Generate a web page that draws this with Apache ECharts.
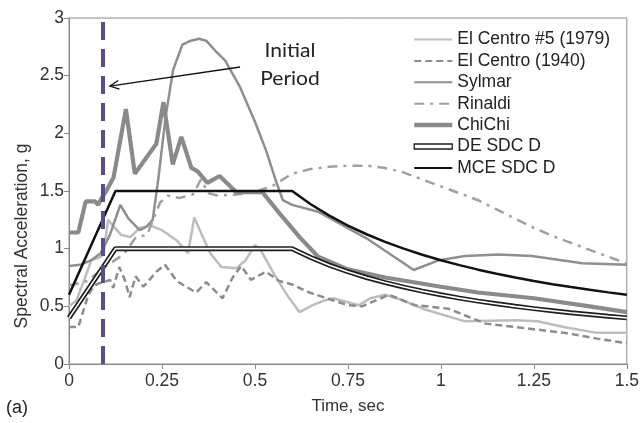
<!DOCTYPE html>
<html><head><meta charset="utf-8">
<script src="https://cdn.jsdelivr.net/npm/echarts@6/dist/echarts.min.js"></script>
<style>html,body{margin:0;padding:0;background:#fff}#c{width:642px;height:423px}</style>
</head><body><div id="c"></div>
<script>
// ---- data (time in sec, spectral acceleration in g) ----
const seriesNames = ['El Centro #5 (1979)', 'El Centro (1940)', 'Sylmar', 'Rinaldi', 'ChiChi', 'DE SDC D', 'MCE SDC D'];
const xTickLabels = [0, 0.25, 0.5, 0.75, 1, 1.25, 1.5];
const yTickLabels = [0, 0.5, 1, 1.5, 2, 2.5, 3];
const initialPeriod = 0.093;

const elCentro5 = [[0,0.5],[0.02,0.55],[0.04,0.72],[0.06,0.9],[0.08,0.92],[0.093,0.95],[0.105,1.25],[0.14,1.12],[0.165,1.1],[0.19,1.18],[0.22,1.2],[0.25,1.16],[0.29,1.07],[0.32,0.96],[0.337,1.27],[0.36,1.1],[0.38,0.96],[0.41,0.84],[0.45,0.83],[0.475,0.9],[0.5,1.03],[0.515,0.99],[0.555,0.76],[0.59,0.58],[0.62,0.45],[0.655,0.51],[0.69,0.555],[0.71,0.57],[0.78,0.51],[0.81,0.57],[0.85,0.6],[0.895,0.555],[0.96,0.47],[1.065,0.37],[1.2,0.38],[1.26,0.37],[1.33,0.32],[1.42,0.27],[1.5,0.27]];
const elCentro1940 = [[0,0.32],[0.025,0.32],[0.052,0.6],[0.065,0.67],[0.08,0.7],[0.095,0.71],[0.11,0.73],[0.119,0.66],[0.135,0.84],[0.15,0.73],[0.163,0.58],[0.179,0.76],[0.2,0.67],[0.235,0.8],[0.258,0.86],[0.29,0.72],[0.315,0.67],[0.342,0.62],[0.369,0.71],[0.413,0.57],[0.44,0.75],[0.463,0.85],[0.489,0.73],[0.53,0.8],[0.565,0.72],[0.6,0.69],[0.646,0.62],[0.708,0.555],[0.75,0.51],[0.788,0.5],[0.86,0.6],[0.93,0.51],[1.02,0.48],[1.12,0.35],[1.2,0.32],[1.333,0.27],[1.42,0.22],[1.5,0.18]];
const sylmar = [[0,0.85],[0.03,0.86],[0.06,0.9],[0.085,0.96],[0.11,1.12],[0.138,1.38],[0.16,1.26],[0.19,1.16],[0.208,1.19],[0.225,1.25],[0.24,1.6],[0.26,2.15],[0.28,2.55],[0.305,2.77],[0.325,2.8],[0.35,2.82],[0.37,2.8],[0.395,2.71],[0.42,2.63],[0.46,2.4],[0.5,2.1],[0.53,1.85],[0.555,1.6],[0.575,1.42],[0.6,1.38],[0.67,1.32],[0.8,1.09],[0.927,0.815],[0.995,0.9],[1.065,0.937],[1.155,0.95],[1.245,0.937],[1.38,0.873],[1.5,0.86]];
const rinaldi = [[0,0.68],[0.05,0.72],[0.1,0.85],[0.147,0.95],[0.18,1.1],[0.21,1.12],[0.245,1.4],[0.265,1.46],[0.297,1.44],[0.333,1.47],[0.355,1.6],[0.375,1.48],[0.4,1.46],[0.45,1.47],[0.5,1.49],[0.55,1.55],[0.6,1.65],[0.65,1.69],[0.7,1.71],[0.75,1.72],[0.8,1.72],[0.85,1.7],[0.9,1.66],[0.95,1.6],[1.0,1.54],[1.05,1.48],[1.1,1.42],[1.15,1.34],[1.2,1.26],[1.25,1.18],[1.3,1.11],[1.35,1.05],[1.4,0.99],[1.45,0.93],[1.5,0.87]];
const chiChi = [[0,1.14],[0.025,1.14],[0.045,1.41],[0.07,1.41],[0.078,1.38],[0.088,1.44],[0.1,1.5],[0.12,1.62],[0.153,2.21],[0.177,1.65],[0.217,1.83],[0.235,1.91],[0.254,2.27],[0.279,1.73],[0.302,1.97],[0.329,1.7],[0.346,1.67],[0.372,1.57],[0.405,1.63],[0.45,1.49],[0.52,1.49],[0.565,1.31],[0.62,1.1],[0.67,0.93],[0.75,0.82],[0.85,0.75],[1.0,0.67],[1.1,0.62],[1.25,0.57],[1.4,0.5],[1.5,0.45]];
const deSdcD = [[0,0.4],[0.125,1.0],[0.6,1.0],[0.65,0.923],[0.7,0.857],[0.75,0.8],[0.8,0.75],[0.85,0.706],[0.9,0.667],[0.95,0.632],[1.0,0.6],[1.05,0.571],[1.1,0.545],[1.15,0.522],[1.2,0.5],[1.25,0.48],[1.3,0.462],[1.35,0.444],[1.4,0.429],[1.45,0.414],[1.5,0.4]];
const mceSdcD = [[0,0.6],[0.125,1.5],[0.6,1.5],[0.65,1.385],[0.7,1.286],[0.75,1.2],[0.8,1.125],[0.85,1.059],[0.9,1.0],[0.95,0.947],[1.0,0.9],[1.05,0.857],[1.1,0.818],[1.15,0.783],[1.2,0.75],[1.25,0.72],[1.3,0.692],[1.35,0.667],[1.4,0.643],[1.45,0.621],[1.5,0.6]];
// annotation arrow (data coords): start near text, tip at the dashed line
const arrowStart = [0.46, 2.575];
const arrowTip = [0.11, 2.41];

const FONT = 'Liberation Sans, Arial, sans-serif';
const chart = echarts.init(document.getElementById('c'), null, {renderer: 'canvas'});

function line(name, data, color, width, type, z) {
  return {name, type: 'line', data, showSymbol: false, symbol: 'none', z: z || 2,
    lineStyle: {color, width, type: type || 'solid'}, itemStyle: {color}, animation: false, silent: true};
}

const axisCommon = {
  axisLine: {show: true, lineStyle: {color: '#8a8a8a', width: 1}},
  axisTick: {show: true, length: 5, lineStyle: {color: '#8a8a8a'}},
  splitLine: {show: false},
  nameTextStyle: {fontSize: 17, color: '#333', fontFamily: FONT}
};

const series = [
  line(seriesNames[0], elCentro5, '#bdbdbd', 2.5),
  line(seriesNames[1], elCentro1940, '#8c8c8c', 2.5, [7, 4]),
  line(seriesNames[2], sylmar, '#8f8f8f', 2.5),
  line(seriesNames[3], rinaldi, '#a0a0a0', 2.5, [10, 6, 3, 6]),
  line(seriesNames[4], chiChi, '#8a8a8a', 4.2),
  line(seriesNames[5], deSdcD, '#1e1e1e', 5),
  line('DE inner', deSdcD, '#ffffff', 1.6),
  line(seriesNames[6], mceSdcD, '#111111', 2.5)
];
series[0].markLine = {
  silent: true, symbol: 'none', animation: false,
  label: {show: false},
  lineStyle: {color: '#594d87', width: 4, type: [18, 9]},
  data: [{xAxis: initialPeriod}]
};

const legendWidths = {'ChiChi': 4.5};

chart.setOption({
  animation: false,
  grid: {left: 69, right: 13, top: 18, bottom: 59, show: true, borderColor: '#8a8a8a', borderWidth: 1, containLabel: false},
  xAxis: Object.assign({}, axisCommon, {
    type: 'value', min: 0, max: 1.5, interval: 0.25,
    name: 'Time, sec', nameLocation: 'middle', nameGap: 34,
    axisLabel: {fontSize: 17.5, color: '#333', margin: 8, fontFamily: FONT,
      formatter: v => { const i = xTickLabels.findIndex(t => Math.abs(t - v) < 1e-6); return i >= 0 ? String(xTickLabels[i]) : ''; }}
  }),
  yAxis: Object.assign({}, axisCommon, {
    type: 'value', min: 0, max: 3, interval: 0.5,
    axisLabel: {fontSize: 17.5, color: '#333', margin: 5, fontFamily: FONT,
      formatter: v => { const i = yTickLabels.findIndex(t => Math.abs(t - v) < 1e-6); return i >= 0 ? String(yTickLabels[i]) : ''; }}
  }),
  legend: {
    show: true, orient: 'vertical', left: 412, top: 29, padding: 0,
    itemWidth: 38, itemHeight: 5, itemGap: 0.4,
    selectedMode: false,
    itemStyle: {opacity: 0, borderWidth: 0},
    textStyle: {fontSize: 17.5, color: '#222', lineHeight: 21, fontFamily: FONT},
    data: seriesNames.map(n => n === 'DE SDC D'
      ? {name: n, icon: 'rect', itemStyle: {opacity: 1, color: '#ffffff', borderColor: '#1e1e1e', borderWidth: 1.3}}
      : (legendWidths[n] ? {name: n, lineStyle: {width: legendWidths[n]}} : {name: n}))
  },
  series
});

// annotations
const p0 = chart.convertToPixel({gridIndex: 0}, arrowStart);
const p1 = chart.convertToPixel({gridIndex: 0}, arrowTip);
const dx = p0[0] - p1[0], dy = p0[1] - p1[1];
const L = Math.sqrt(dx * dx + dy * dy), ux = dx / L, uy = dy / L;
const arm = 10, ang = 0.45;
function rot(x, y, a) { return [x * Math.cos(a) - y * Math.sin(a), x * Math.sin(a) + y * Math.cos(a)]; }
const a1 = rot(ux, uy, ang), a2 = rot(ux, uy, -ang);

chart.setOption({
  graphic: [
    {type: 'polyline', silent: true, z: 100, shape: {points: [p0, p1]}, style: {stroke: '#111', lineWidth: 1.3, fill: null}},
    {type: 'polyline', silent: true, z: 100, shape: {points: [[p1[0] + a1[0] * arm, p1[1] + a1[1] * arm], p1, [p1[0] + a2[0] * arm, p1[1] + a2[1] * arm]]}, style: {stroke: '#111', lineWidth: 1.3, fill: null}},
    {type: 'text', silent: true, z: 100, x: 290, y: 65, scaleX: 1.08,
      style: {text: 'Initial\nPeriod', fontSize: 19.5, lineHeight: 28, fontFamily: 'Lato, Open Sans, sans-serif', fill: '#222', align: 'center', verticalAlign: 'middle'}},
    {type: 'text', silent: true, z: 100, x: 22, y: 236, rotation: Math.PI / 2,
      style: {text: 'Spectral Acceleration, g', fontSize: 17.5, fontFamily: FONT, fill: '#333', align: 'center', verticalAlign: 'middle'}},
    {type: 'text', silent: true, z: 100, x: 6, y: 408,
      style: {text: '(a)', fontSize: 18, fontFamily: FONT, fill: '#222', align: 'left', verticalAlign: 'middle'}}
  ]
});
</script>
</body></html>
